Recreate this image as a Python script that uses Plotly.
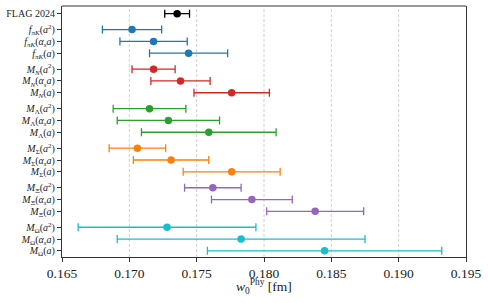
import plotly.graph_objects as go

# ---- data ----
flag_label = ["FLAG 2024"]
flag_val = [0.17355]
flag_err = [0.00092]

labels_fpiK = ["<i>f</i><sub><i>πK</i></sub>(<i>a</i><sup>2</sup>)", "<i>f</i><sub><i>πK</i></sub>(<i>α<sub>s</sub>a</i>)", "<i>f</i><sub><i>πK</i></sub>(<i>a</i>)"]
labels_MN = ["<i>M<sub>N</sub></i>(<i>a</i><sup>2</sup>)", "<i>M<sub>N</sub></i>(<i>α<sub>s</sub>a</i>)", "<i>M<sub>N</sub></i>(<i>a</i>)"]
labels_MLambda = ["<i>M</i><sub>Λ</sub>(<i>a</i><sup>2</sup>)", "<i>M</i><sub>Λ</sub>(<i>α<sub>s</sub>a</i>)", "<i>M</i><sub>Λ</sub>(<i>a</i>)"]
labels_MSigma = ["<i>M</i><sub>Σ</sub>(<i>a</i><sup>2</sup>)", "<i>M</i><sub>Σ</sub>(<i>α<sub>s</sub>a</i>)", "<i>M</i><sub>Σ</sub>(<i>a</i>)"]
labels_MXi = ["<i>M</i><sub>Ξ</sub>(<i>a</i><sup>2</sup>)", "<i>M</i><sub>Ξ</sub>(<i>α<sub>s</sub>a</i>)", "<i>M</i><sub>Ξ</sub>(<i>a</i>)"]
labels_MOmega = ["<i>M</i><sub>Ω</sub>(<i>a</i><sup>2</sup>)", "<i>M</i><sub>Ω</sub>(<i>α<sub>s</sub>a</i>)", "<i>M</i><sub>Ω</sub>(<i>a</i>)"]

vals_fpiK = [0.1702, 0.1718, 0.1744]
errs_fpiK = [0.0022, 0.0025, 0.0029]
vals_MN = [0.1718, 0.1738, 0.1776]
errs_MN = [0.0016, 0.0022, 0.0028]
vals_MLambda = [0.1715, 0.1729, 0.1759]
errs_MLambda = [0.0027, 0.0038, 0.0050]
vals_MSigma = [0.1706, 0.1731, 0.1776]
errs_MSigma = [0.0021, 0.0028, 0.0036]
vals_MXi = [0.1762, 0.1791, 0.1838]
errs_MXi = [0.0021, 0.0030, 0.0036]
vals_MOmega = [0.1728, 0.1783, 0.1845]
errs_MOmega = [0.0066, 0.0092, 0.0087]

colors = ["#1f77b4", "#d62728", "#2ca02c", "#ff7f0e", "#9467bd", "#17becf"]

x_ticks = [0.165, 0.170, 0.175, 0.180, 0.185, 0.190, 0.195]
x_tick_labels = ["0.165", "0.170", "0.175", "0.180", "0.185", "0.190", "0.195"]

groups = [
    (labels_fpiK, vals_fpiK, errs_fpiK),
    (labels_MN, vals_MN, errs_MN),
    (labels_MLambda, vals_MLambda, errs_MLambda),
    (labels_MSigma, vals_MSigma, errs_MSigma),
    (labels_MXi, vals_MXi, errs_MXi),
    (labels_MOmega, vals_MOmega, errs_MOmega),
]

GAP = 0.35
fig = go.Figure()
tickvals = [0.0]
ticktext = flag_label[:]

fig.add_trace(go.Scatter(
    x=flag_val, y=[0.0], mode="markers",
    marker=dict(color="black", size=7.5),
    error_x=dict(type="data", array=flag_err, color="black", thickness=1.3, width=4),
    showlegend=False))

pos = 0.0
for gi, (labs, vals, errs) in enumerate(groups):
    start = pos + 1 + GAP
    ys = [start + k for k in range(len(vals))]
    pos = ys[-1]
    tickvals += ys
    ticktext += labs
    fig.add_trace(go.Scatter(
        x=vals, y=ys, mode="markers",
        marker=dict(color=colors[gi], size=7.5),
        error_x=dict(type="data", array=errs, color=colors[gi], thickness=1.3, width=4),
        showlegend=False))

serif = "Liberation Serif"

for xv in x_ticks[1:-1]:
    fig.add_shape(type="line", x0=xv, x1=xv, y0=0, y1=1, xref="x", yref="paper",
                  line=dict(color="#c4c4c4", width=0.8, dash="3px,2px"), layer="below")

fig.add_shape(type="line", x0=0, x1=1, y0=1, y1=1, xref="paper", yref="paper",
              line=dict(color="#999999", width=2))

fig.add_annotation(text="<i>w</i><sub>0</sub><sup>Phy</sup> [fm]", x=0.5, xref="paper",
                   y=-0.118, yref="paper", yanchor="middle", xanchor="center", showarrow=False,
                   font=dict(size=13.5, family=serif, color="#222"))

fig.update_layout(
    width=488, height=303,
    margin=dict(l=57, r=22, t=6, b=46),
    paper_bgcolor="white", plot_bgcolor="white",
    font=dict(family=serif, color="#222"),
    xaxis=dict(range=[0.165, 0.195], tickvals=x_ticks, ticktext=x_tick_labels,
               showgrid=False, zeroline=False, showline=True, linecolor="#333", linewidth=1.2,
               ticks="outside", ticklen=3.5, tickcolor="#333", tickfont=dict(size=13.5, family=serif)),
    yaxis=dict(range=[20.62, -0.65], tickvals=tickvals, ticktext=ticktext,
               showgrid=False, zeroline=False, showline=True, linecolor="#333", linewidth=1.2,
               mirror=True, ticks="outside", ticklen=4, tickcolor="#333",
               tickfont=dict(size=10, family=serif)),
)

fig.write_html("out.html", config={"displayModeBar": False},
               post_script="document.body.style.margin='0';")
